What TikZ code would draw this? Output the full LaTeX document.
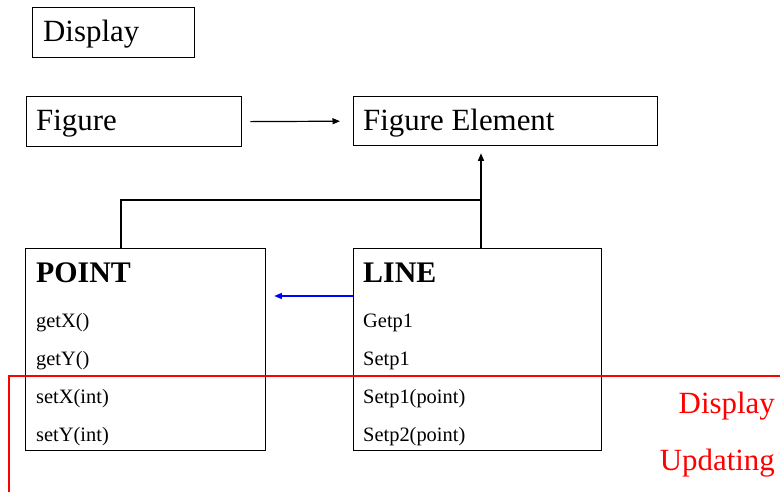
\documentclass[tikz,border=0pt]{standalone}
\usepackage{fontspec}
\setmainfont{Liberation Serif}[BoldFont={Liberation Serif Bold}]
\usetikzlibrary{arrows.meta}
\begin{document}
\begin{tikzpicture}[x=1bp,y=-1bp,
  box/.style={draw,line width=1.3bp,inner sep=0pt,anchor=north west},
  big/.style={font=\rmfamily\fontsize{31}{31}\selectfont,inner sep=0pt,anchor=base west},
  bigbold/.style={font=\rmfamily\fontsize{30}{30}\selectfont\bfseries,inner sep=0pt,anchor=base west},
  small/.style={font=\rmfamily\fontsize{20.5}{20.5}\selectfont,inner sep=0pt,anchor=base west},
  conn/.style={line width=1.2bp},
  arr/.style={conn,-{Triangle[length=7.5bp,width=6bp]}},
  bluearr/.style={line width=1.1bp,blue,-{Triangle[length=7.5bp,width=6bp]}},
  note/.style={font=\rmfamily\fontsize{31}{31}\selectfont,inner sep=0pt,anchor=base east,red}]
  \useasboundingbox (0,0) rectangle (780,492);

  % Boxes
  \node[box,minimum width=162bp,minimum height=50bp] (display) at (32,7) {};
  \node[box,minimum width=215bp,minimum height=50bp] (fig) at (26,96) {};
  \node[box,minimum width=304bp,minimum height=49bp] (elem) at (353,96) {};
  \node[box,minimum width=240bp,minimum height=202bp] (point) at (25,248) {};
  \node[box,minimum width=248bp,minimum height=202bp] (line) at (353,248) {};

  % Box titles
  \node[big] (displayt) at (43,42) {Display};
  \node[big] (figt) at (36,131) {Figure};
  \node[big] (elemt) at (363,131) {Figure Element};
  \node[bigbold] (pointt) at (36,283) {POINT};
  \node[bigbold] (linet) at (363,283) {LINE};

  % Methods
  \node[small] (p1) at (36,327) {getX()};
  \node[small] (p2) at (36,365) {getY()};
  \node[small] (p3) at (36,403) {setX(int)};
  \node[small] (p4) at (36,441) {setY(int)};
  \node[small] (l1) at (363,327) {Getp1};
  \node[small] (l2) at (363,365) {Setp1};
  \node[small] (l3) at (363,403) {Setp1(point)};
  \node[small] (l4) at (363,441) {Setp2(point)};

  % Connectors
  \draw[arr,shorten <=8bp,shorten >=13bp] (fig.east) -- (elem.west);
  \coordinate (hub) at (481,200);
  \draw[conn] ([xshift=96bp]point.north west) |- (hub);
  \draw[arr,shorten >=7bp] (line.north west -| hub) -- (hub) -- (hub |- elem.south);
  \draw[bluearr] ([yshift=-48bp]line.north west) -- ([yshift=-48bp,xshift=8bp]point.north east);

  % Display-updating boundary
  \coordinate (rtop) at (780,376);
  \coordinate (rcorner) at (9,376);
  \coordinate (rbottom) at (9,492);
  \draw[red,line width=1.3bp] (rtop) -- (rcorner) -- (rbottom);
  \node[note] (upd1) at (775,413) {Display};
  \node[note] (upd2) at (775,470) {Updating};
\end{tikzpicture}
\end{document}
